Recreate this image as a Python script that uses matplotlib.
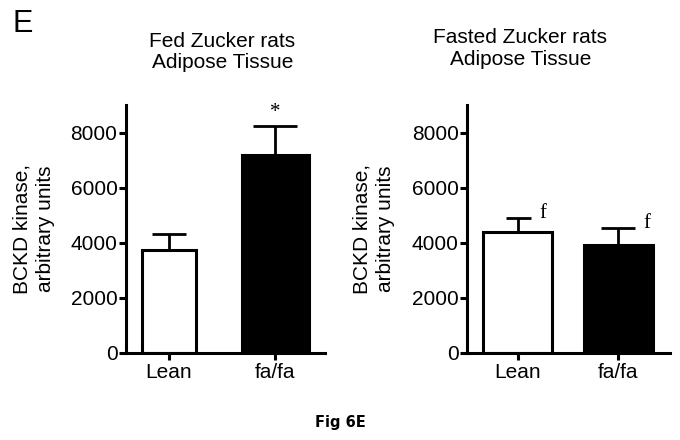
import numpy as np
import matplotlib
matplotlib.use("Agg")
import matplotlib.pyplot as plt

plt.rcParams['font.family'] = ['Liberation Sans', 'DejaVu Sans']

groups = ["Lean", "fa/fa"]
fed_mean = [3750, 7200]
fed_sem = [580, 1050]
fasted_mean = [4380, 3930]
fasted_sem = [520, 620]
fed_marks = ["", "*"]
fasted_marks = ["f", "f"]
yticks = [0, 2000, 4000, 6000, 8000]

fig = plt.figure(figsize=(6.8, 4.4), dpi=100)

def panel(rect, means, sems, marks, widths, xlim, caps, mark_dx, title_xy, title):
    ax = fig.add_axes(rect)
    x = np.arange(len(groups))
    ax.bar(x, means, width=widths, color=["white", "black"], edgecolor="black",
           linewidth=2.2, zorder=2)
    for i in range(len(x)):
        ax.errorbar(x[i], means[i], yerr=[[0], [sems[i]]], fmt="none", ecolor="black",
                    elinewidth=2, capsize=caps[i], capthick=2, zorder=1)
        if marks[i]:
            ax.text(x[i] + mark_dx[i], means[i] + sems[i] + 150, marks[i],
                    family=["Liberation Serif", "DejaVu Serif"], fontsize=15,
                    ha="center", va="bottom" if marks[i] == "*" else "center")
    ax.set_xlim(*xlim)
    ax.set_ylim(0, 9000)
    ax.set_yticks(yticks)
    ax.set_xticks(x)
    ax.set_xticklabels(groups)
    for s in ["top", "right"]:
        ax.spines[s].set_visible(False)
    for s in ["left", "bottom"]:
        ax.spines[s].set_linewidth(2.2)
    ax.tick_params(axis="both", direction="out", length=5, width=2.2, labelsize=15, pad=1)
    ax.tick_params(axis="x", pad=2)
    ax.set_ylabel("BCKD kinase,\narbitrary units", fontsize=15, linespacing=1.3)
    ax.yaxis.set_label_coords(-0.355, 0.5)
    fig.text(title_xy[0], title_xy[1], title, fontsize=15, ha="center", va="center",
             linespacing=1.15)
    return ax

panel([0.185, 0.198, 0.293, 0.563], fed_mean, fed_sem, fed_marks,
      [0.51, 0.63], (-0.405, 1.47), [12, 16], [0, 0], (0.327, 0.882),
      "Fed Zucker rats\nAdipose Tissue")
panel([0.687, 0.198, 0.298, 0.563], fasted_mean, fasted_sem, fasted_marks,
      [0.68, 0.68], (-0.50, 1.51), [9, 12], [0.25, 0.28], (0.765, 0.89),
      "Fasted Zucker rats\nAdipose Tissue")

fig.text(0.019, 0.945, "E", fontsize=22, ha="left", va="center")
fig.text(0.5, 0.04, "Fig 6E", family="DejaVu Sans", fontweight="bold", fontsize=10.5,
         ha="center", va="center")

fig.savefig("out.png", dpi=100)
